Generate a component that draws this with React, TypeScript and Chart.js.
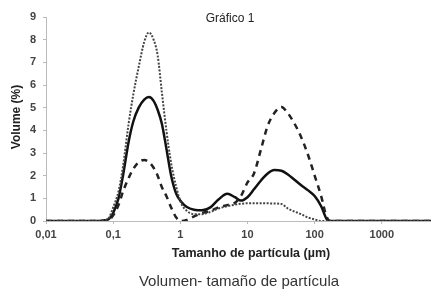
import React, { useEffect, useRef } from "react";
import { Chart, registerables } from "chart.js";

Chart.register(...registerables);

const sizes = [0.01, 0.06, 0.075, 0.087, 0.1, 0.12, 0.14, 0.17, 0.2, 0.24, 0.29, 0.34, 0.4, 0.46, 0.53, 0.62, 0.73, 0.87, 1.03, 1.25, 1.6, 2.1, 2.8, 3.7, 5, 6.5, 8, 10, 12.5, 16, 20, 25, 32, 40, 50, 63, 80, 100, 125, 150, 170, 300, 1000, 5400];

const solidSeries = [0, 0, 0.03, 0.1, 0.35, 1.0, 2.0, 3.5, 4.4, 5.0, 5.35, 5.47, 5.3, 4.9, 4.3, 3.2, 2.0, 1.2, 0.85, 0.62, 0.5, 0.47, 0.6, 0.95, 1.2, 1.05, 0.9, 1.05, 1.4, 1.8, 2.1, 2.25, 2.22, 2.05, 1.82, 1.58, 1.35, 1.1, 0.65, 0.1, 0, 0, 0, 0];

const dashedSeries = [0, 0, 0, 0.05, 0.25, 0.7, 1.3, 1.9, 2.3, 2.6, 2.69, 2.6, 2.35, 2.0, 1.5, 1.1, 0.6, 0.15, 0, 0.05, 0.2, 0.35, 0.45, 0.6, 0.7, 0.8, 1.1, 1.7, 2.1, 3.2, 4.2, 4.75, 5.03, 4.75, 4.3, 3.7, 2.9, 2.0, 1.1, 0.2, 0, 0, 0, 0];

const dottedSeries = [0, 0, 0.03, 0.15, 0.6, 1.3, 2.4, 4.3, 5.6, 6.8, 7.9, 8.32, 8.0, 7.3, 5.7, 4.0, 2.55, 1.5, 0.78, 0.45, 0.3, 0.3, 0.4, 0.55, 0.65, 0.72, 0.76, 0.78, 0.78, 0.78, 0.78, 0.77, 0.75, 0.55, 0.42, 0.3, 0.15, 0.07, 0, 0, 0, 0, 0, 0];

const xTickValues = [0.01, 0.1, 1, 10, 100, 1000];
const xTickLabels = ["0,01", "0,1", "1", "10", "100", "1000"];

const chartTitle = "Gráfico 1";
const yAxisTitle = "Volume (%)";
const xAxisTitle = "Tamanho de partícula (µm)";
const caption = "Volumen- tamaño de partícula";

const textPlugin = {
  id: "texts",
  afterDraw(chart: any) {
    const ctx = chart.ctx;
    ctx.save();
    ctx.fillStyle = "#222";
    ctx.textAlign = "center";
    ctx.textBaseline = "middle";
    ctx.font = "12px 'Liberation Sans', Arial, sans-serif";
    ctx.fillText(chartTitle, 230, 19);
    ctx.font = "bold 12.5px 'Liberation Sans', Arial, sans-serif";
    ctx.fillText(xAxisTitle, 251, 254);
    ctx.font = "15px 'Liberation Sans', Arial, sans-serif";
    ctx.fillStyle = "#333";
    ctx.fillText(caption, 239, 282);
    ctx.translate(17, 117);
    ctx.rotate(-Math.PI / 2);
    ctx.font = "bold 12px 'Liberation Sans', Arial, sans-serif";
    ctx.fillStyle = "#222";
    ctx.fillText(yAxisTitle, 0, 0);
    ctx.restore();
  },
};

export default function App() {
  const ref = useRef<HTMLCanvasElement | null>(null);
  useEffect(() => {
    if (!ref.current) return;
    const tickFont = { family: "'Liberation Sans', Arial, sans-serif", size: 11, weight: "bold" as const };
    const chart = new Chart(ref.current, {
      type: "line",
      data: {
        datasets: [
          {
            data: sizes.map((x, i) => ({ x, y: dottedSeries[i] })),
            borderColor: "#444",
            borderWidth: 2,
            borderDash: [2, 1.5],
            pointRadius: 0,
            cubicInterpolationMode: "monotone",
          },
          {
            data: sizes.map((x, i) => ({ x, y: dashedSeries[i] })),
            borderColor: "#222",
            borderWidth: 2.5,
            borderDash: [6, 5],
            pointRadius: 0,
            cubicInterpolationMode: "monotone",
          },
          {
            data: sizes.map((x, i) => ({ x, y: solidSeries[i] })),
            borderColor: "#111",
            borderWidth: 2.5,
            pointRadius: 0,
            cubicInterpolationMode: "monotone",
          },
        ],
      },
      options: {
        responsive: true,
        maintainAspectRatio: false,
        animation: false,
        layout: { padding: { top: 17, right: 0, left: 0, bottom: 0 } },
        plugins: { legend: { display: false }, tooltip: { enabled: false }, title: { display: false } },
        scales: {
          x: {
            type: "logarithmic",
            min: 0.01,
            max: 5400,
            afterBuildTicks: (scale: any) => {
              scale.ticks = xTickValues.map((v) => ({ value: v }));
            },
            afterFit: (scale: any) => {
              scale.height = 70;
            },
            ticks: {
              autoSkip: false,
              maxRotation: 0,
              padding: 4,
              color: "#444",
              font: tickFont,
              callback: (v: any) => {
                const i = xTickValues.findIndex((t) => Math.abs(t - Number(v)) < 1e-9 * Math.max(1, t));
                return i >= 0 ? xTickLabels[i] : "";
              },
            },
            grid: { display: true, drawOnChartArea: false, tickLength: 3, color: "#bbb" },
            border: { color: "#bbb", width: 1 },
          },
          y: {
            min: 0,
            max: 9,
            ticks: { stepSize: 1, padding: 7, color: "#444", font: tickFont },
            afterFit: (scale: any) => {
              scale.width = 46;
            },
            grid: { display: true, drawOnChartArea: false, tickLength: 3, color: "#bbb" },
            border: { color: "#bbb", width: 1 },
          },
        },
      },
      plugins: [textPlugin],
    });
    return () => chart.destroy();
  }, []);
  return (
    <div style={{ position: "absolute", left: 0, top: 0, width: 431, height: 291, background: "#fff" }}>
      <canvas ref={ref} />
    </div>
  );
}
